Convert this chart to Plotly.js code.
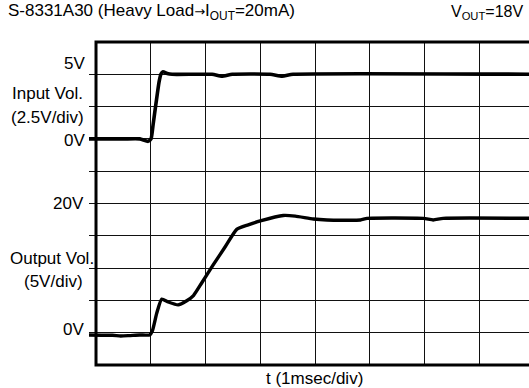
<!DOCTYPE html>
<html>
<head>
<meta charset="utf-8">
<script src="https://cdn.plot.ly/plotly-3.0.1.min.js"></script>
<style>
html, body { margin: 0; padding: 0; overflow: hidden; background: #fff; }
#chart { width: 540px; height: 388px; }
</style>
</head>
<body>
<div id="chart"></div>
<script>
// ---- data (time in ms, voltages in V) ----
const inputTime = [-0.13, 0.5, 0.80, 0.95, 1.005, 1.042, 1.097, 1.152, 1.188, 1.225, 1.30, 1.39, 2.12, 2.30, 2.49, 3.18, 3.40, 3.60, 8.0];
const inputVolt = [0.0, 0.0, 0.0, -0.19, 0.0, 1.08, 2.79, 4.41, 5.03, 5.19, 5.07, 5.0, 5.0, 4.85, 5.0, 5.0, 4.85, 5.0, 5.0];

const outputTime = [-0.13, 0.3, 0.45, 0.6, 0.8, 0.98, 1.03, 1.11, 1.20, 1.32, 1.50, 1.65, 1.78, 1.93, 2.14, 2.36, 2.57, 2.78, 3.0, 3.42, 3.64, 3.97, 4.22, 4.83, 4.95, 5.98, 6.16, 6.34, 8.0];
const outputVolt = [-0.35, -0.4, -0.5, -0.45, -0.35, -0.35, 0.3, 3.05, 5.2, 4.75, 4.3, 4.9, 5.75, 7.7, 10.5, 13.3, 16.0, 16.7, 17.3, 18.15, 18.05, 17.6, 17.45, 17.45, 17.7, 17.7, 17.45, 17.7, 17.7];

const inputTickVals = [0, 5];
const inputTickText = ['0V', '5V'];
const outputTickVals = [0, 20];
const outputTickText = ['0V', '20V'];

const titleText = 'S-8331A30 (Heavy Load<span style="font-family:\'DejaVu Sans\';font-size:13px">→</span>I<sub>OUT</sub>=20mA)';
const voutText = 'V<sub>OUT</sub>=18V';
const xTitle = 't (1msec/div)';
const inLabel = ['Input Vol.', '(2.5V/div)'];
const outLabel = ['Output Vol.', '(5V/div)'];

// ---- layout geometry ----
const GRID0 = 96;           // pixel of t = 0 (left border)
const DIVPX = 54.7;         // pixels per ms division
const XMIN = -0.128;        // traces start a little left of the border
const L = GRID0 + XMIN * DIVPX, T = 42, W = (8 - XMIN) * DIVPX, H = 323;
const FIGW = 540;
const px2x = px => (px - L) / W;
const py2y = py => (T + H - py) / H;
const FONT = 'Liberation Sans, Arial, sans-serif';
const fs = 17;

const traces = [
  { x: inputTime, y: inputVolt, xaxis: 'x', yaxis: 'y', mode: 'lines',
    line: { color: '#000', width: 3.6, shape: 'spline', smoothing: 0.5 }, hoverinfo: 'skip' },
  { x: outputTime, y: outputVolt, xaxis: 'x', yaxis: 'y2', mode: 'lines',
    line: { color: '#000', width: 3.4, shape: 'spline', smoothing: 0.5 }, hoverinfo: 'skip' }
];

const annotations = [];
function ann(o) {
  annotations.push(Object.assign({ showarrow: false, font: { family: FONT, size: fs, color: '#000' } }, o));
}
ann({ text: titleText, xref: 'paper', yref: 'paper', x: px2x(6), y: py2y(12), xanchor: 'left', yanchor: 'middle' });
ann({ text: voutText, xref: 'paper', yref: 'paper', x: px2x(525), y: py2y(12), xanchor: 'right', yanchor: 'middle', font: { family: FONT, size: 16, color: '#000' } });
ann({ text: xTitle, xref: 'paper', yref: 'paper', x: px2x(314), y: py2y(378.5), xanchor: 'center', yanchor: 'middle' });
ann({ text: inLabel[0], xref: 'paper', yref: 'paper', x: px2x(47.5), y: py2y(93), xanchor: 'center', yanchor: 'middle' });
ann({ text: inLabel[1], xref: 'paper', yref: 'paper', x: px2x(48), y: py2y(117), xanchor: 'center', yanchor: 'middle' });
ann({ text: outLabel[0], xref: 'paper', yref: 'paper', x: px2x(52.5), y: py2y(258.5), xanchor: 'center', yanchor: 'middle' });
ann({ text: outLabel[1], xref: 'paper', yref: 'paper', x: px2x(53.5), y: py2y(281.5), xanchor: 'center', yanchor: 'middle' });
// tick labels
const inShift = [-2, 11];
inputTickVals.forEach((v, i) => ann({ text: inputTickText[i], xref: 'paper', yref: 'y', x: px2x(87), y: v, yshift: inShift[i], xanchor: 'right', yanchor: 'middle' }));
const outShift = [3, 0];
outputTickVals.forEach((v, i) => ann({ text: outputTickText[i], xref: 'paper', yref: 'y2', x: px2x(86), y: v, yshift: outShift[i], xanchor: 'right', yanchor: 'middle' }));

const shapes = [
  // hide grid left of the border (under the traces)
  { type: 'rect', xref: 'x', yref: 'paper', x0: XMIN, x1: 0, y0: -0.01, y1: 1.01, layer: 'between',
    fillcolor: '#fff', line: { width: 0 } },
  // frame
  { type: 'rect', xref: 'x', yref: 'paper', x0: 0, x1: 8, y0: 0, y1: 1, layer: 'above',
    fillcolor: 'rgba(0,0,0,0)', line: { color: '#000', width: 3 } }
];

const layout = {
  width: FIGW, height: 388,
  margin: { l: L, r: FIGW - L - W, t: T, b: 388 - T - H },
  paper_bgcolor: '#fff', plot_bgcolor: '#fff',
  showlegend: false,
  xaxis: { range: [XMIN, 8], dtick: 1, tick0: 0, showgrid: true, gridcolor: '#111', gridwidth: 1,
           zeroline: false, showline: false, showticklabels: false, ticks: '', fixedrange: true },
  yaxis: { range: [-17.5, 7.5], dtick: 2.5, tick0: 0, showgrid: true, gridcolor: '#111', gridwidth: 1,
           zeroline: false, showline: false, showticklabels: false, ticks: '', fixedrange: true },
  yaxis2: { range: [-5, 45], overlaying: 'y', side: 'left', showgrid: false, zeroline: false,
            showline: false, showticklabels: false, ticks: '', fixedrange: true },
  shapes: shapes,
  annotations: annotations
};

Plotly.newPlot('chart', traces, layout, { staticPlot: true, displayModeBar: false });
</script>
</body>
</html>
